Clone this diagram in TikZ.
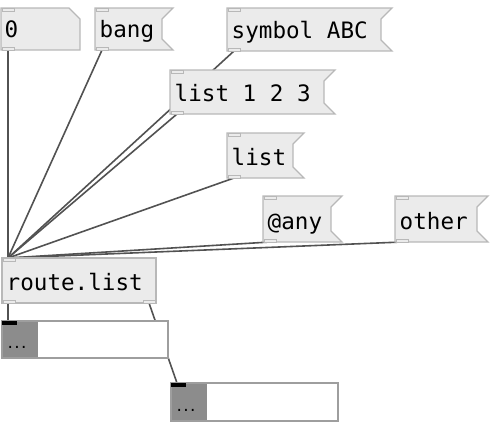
\documentclass[tikz,border=0pt]{standalone}
\usepackage{fontspec}
\setmonofont{DejaVu Sans Mono}
\newfontfamily\dotfont{DejaVu Sans}
\begin{document}
\begin{tikzpicture}[x=1pt,y=-1pt,
  boxline/.style={draw=black!28,fill=black!8,line width=1.3pt,line join=miter},
  iolet/.style={draw=black!28,fill=black!8,line width=0.9pt},
  txt/.style={font=\ttfamily\fontsize{22.6}{26}\selectfont,inner sep=0pt,anchor=base west,text=black},
  dots/.style={font=\dotfont\fontsize{17}{20}\selectfont,inner sep=0pt,anchor=base west},
  wire/.style={draw=black!68,line width=1.6pt},
  guibox/.style={draw=black!38,fill=white,line width=1.3pt},
  guigray/.style={fill=black!45},
]
\useasboundingbox (0,0) rectangle (496,424);
\newcommand\pdio[2]{\draw[iolet] (#1+1,#2) rectangle (#1+13,#2+3);}
\newcommand\pdoo[2]{\draw[iolet] (#1+1,#2-3) rectangle (#1+13,#2);}
\newcommand\pddots{.\kern1.3pt.\kern1.3pt.}
% message box: name, x1, y1, x2, y2, text
\newcommand\pdmsg[6]{%
  \draw[boxline] (#2,#3) -- (#4,#3) -- (#4-11,#3+11) -- (#4-11,#5-11) -- (#4,#5) -- (#2,#5) -- cycle;
  \node[txt] (#1) at (#2+4.5,#5-13) {#6};
  \pdio{#2}{#3}\pdoo{#2}{#5}
  \coordinate (#1-in) at (#2+7,#3);
  \coordinate (#1-out) at (#2+7,#5);
}

% wires (drawn first, behind boxes)
\coordinate (zero-o) at (8,50);
\coordinate (bang-o) at (102,50);
\coordinate (sym-o) at (234,51);
\coordinate (l123-o) at (177,114);
\coordinate (list-o) at (234,178);
\coordinate (any-o) at (270,242);
\coordinate (oth-o) at (402,242);
\coordinate (route-in) at (8,258);
\coordinate (route-o1) at (8,303);
\coordinate (route-o2) at (149,303);
\coordinate (g1-in) at (8,321);
\coordinate (g2-in) at (177,383);
\draw[wire] (zero-o) -- (route-in);
\draw[wire] (bang-o) -- (route-in);
\draw[wire] (sym-o) -- (route-in);
\draw[wire] (l123-o) -- (route-in);
\draw[wire] (list-o) -- (route-in);
\draw[wire] (any-o) -- (route-in);
\draw[wire] (oth-o) -- (route-in);
\draw[wire] (route-o1) -- (g1-in);
\draw[wire] (route-o2) -- (g2-in);

% number (atom) box "0"
\draw[boxline] (1,8) -- (69,8) -- (80,19) -- (80,50) -- (1,50) -- cycle;
\node[txt] (zero) at (4.5,37) {0};
\pdio{1}{8}\pdoo{1}{50}

\pdmsg{bang}{95}{8}{173}{50}{bang}
\pdmsg{sym}{227}{8}{392}{51}{symbol ABC}
\pdmsg{l123}{170}{70}{335}{114}{list 1 2 3}
\pdmsg{list}{227}{133}{304}{178}{list}
\pdmsg{any}{263}{196}{342}{242}{@any}
\pdmsg{oth}{395}{196}{488}{242}{other}

% route.list object
\draw[boxline] (2,258) rectangle (156,303);
\node[txt] (route) at (6.5,290) {route.list};
\pdio{2}{258}\pdoo{2}{303}\pdoo{142}{303}

% gui boxes
\draw[guibox] (2,321) rectangle (168,358);
\fill[guigray] (2.7,321.7) rectangle (38,357.3);
\fill[black] (2,320.5) rectangle (17,324.5);
\node[dots] (g1) at (7.5,348) {\pddots};

\draw[guibox] (171,383) rectangle (338,421);
\fill[guigray] (171.7,383.7) rectangle (207,420.3);
\fill[black] (171,382.5) rectangle (186,386.5);
\node[dots] (g2) at (176.5,411) {\pddots};
\end{tikzpicture}
\end{document}
